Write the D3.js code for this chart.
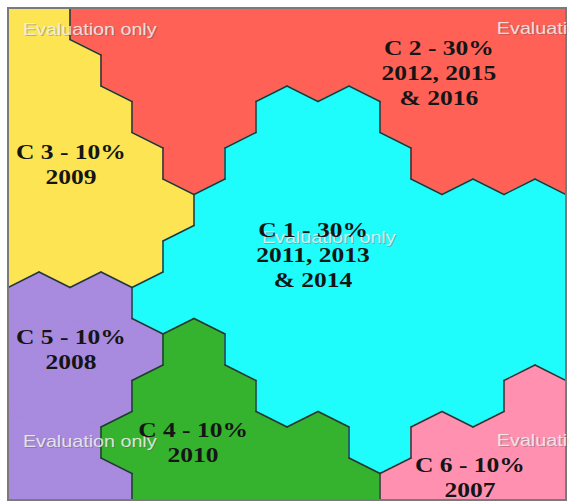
<!DOCTYPE html>
<html>
  <head>
    <meta charset="utf-8">
    <title>SOM clusters</title>
    <script src="https://d3js.org/d3.v7.min.js"></script>
    <style>
      body { margin: 0; background: #fff; }
      .label {
        font-family: "Liberation Serif", "Times New Roman", serif;
        font-weight: bold;
        font-size: 22px;
        fill: #151515;
      }
      .wm {
        font-family: "Liberation Sans", Arial, sans-serif;
        font-size: 17px;
      }
    </style>
  </head>
  <body>
    <svg width="574" height="503"></svg>
    <script>
      // cluster ids, colours and captions
      var clusterIds = [1, 2, 3, 4, 5, 6];
      var clusterColors = ["#1ffcfc", "#ff6156", "#fce453", "#36b32e", "#a88ade", "#ff90b0"];
      var clusterTitles = ["C 1 - 30%", "C 2 - 30%", "C 3 - 10%", "C 4 - 10%", "C 5 - 10%", "C 6 - 10%"];
      var clusterYears = [["2011, 2013", "& 2014"], ["2012, 2015", "& 2016"], ["2009"], ["2010"], ["2008"], ["2007"]];

      // where each caption sits on the grid (row, half-column)
      var labelRows = [4.97, 1.05, 3.03, 8.99, 7.0, 9.75];
      var labelCols = [9.84, 13.9, 2.03, 5.97, 2.03, 14.9];

      // SOM map: one string per hex row, one digit per cell = cluster id
      var gridRows = [
        "322222222",
        "3322222222",
        "332211222",
        "3332111222",
        "333111111",
        "3331111111",
        "551111111",
        "5554111111",
        "554411116",
        "5544441666",
        "554444666"
      ];

      var watermark = "Evaluation only";
      var wmRows = [0.24, 0.22, 4.71, 9.1, 9.07];
      var wmCols = [0.48, 15.77, 8.19, 0.48, 15.77];

      var svg = d3.select("svg");

      var x = d3.scaleLinear().domain([0, 18]).range([8, 566]);
      var y = d3.scaleLinear().domain([0, 10]).range([24, 489]);
      var color = d3.scaleOrdinal().domain(clusterIds).range(clusterColors);

      var hw = x(1) - x(0);
      var R = (y(1) - y(0)) / 1.5;
      var stretch = 1.16;

      var cells = [];
      var lookup = {};
      gridRows.forEach(function(s, r) {
        s.split("").forEach(function(ch, i) {
          var h = r % 2 === 0 ? 2 * i + 1 : 2 * i;
          var c = {row: r, h: h, cluster: +ch};
          cells.push(c);
          lookup[r + "," + h] = c;
        });
      });

      function verts(c) {
        var cx = x(c.h), cy = y(c.row);
        return [[cx, cy - R], [cx + hw, cy - R / 2], [cx + hw, cy + R / 2],
                [cx, cy + R], [cx - hw, cy + R / 2], [cx - hw, cy - R / 2]];
      }

      svg.append("clipPath").attr("id", "map")
        .append("rect").attr("x", x(0)).attr("y", 8)
        .attr("width", x(18) - x(0)).attr("height", 492);

      var map = svg.append("g").attr("clip-path", "url(#map)");

      map.selectAll(".hex")
          .data(cells)
          .enter().append("path")
          .attr("class", "hex")
          .attr("d", function(c) { return "M" + verts(c).join("L") + "Z"; })
          .attr("fill", function(c) { return color(c.cluster); })
          .attr("stroke", function(c) { return color(c.cluster); })
          .attr("stroke-width", 1.4);

      // borders between different clusters
      var dirs = [[-1, 1], [0, 2], [1, 1], [1, -1], [0, -2], [-1, -1]];
      var edges = [];
      cells.forEach(function(c) {
        var v = verts(c);
        dirs.forEach(function(d, k) {
          var n = lookup[(c.row + d[0]) + "," + (c.h + d[1])];
          if (n && n.cluster !== c.cluster && (n.row > c.row || (n.row === c.row && n.h > c.h))) {
            edges.push([v[k], v[(k + 1) % 6]]);
          }
        });
      });

      map.selectAll(".edge")
          .data(edges)
          .enter().append("line")
          .attr("x1", function(e) { return e[0][0]; })
          .attr("y1", function(e) { return e[0][1]; })
          .attr("x2", function(e) { return e[1][0]; })
          .attr("y2", function(e) { return e[1][1]; })
          .attr("stroke", "#263838")
          .attr("stroke-width", 1.5)
          .attr("stroke-linecap", "round");

      svg.append("rect")
          .attr("x", x(0)).attr("y", 8)
          .attr("width", x(18) - x(0)).attr("height", 492)
          .attr("fill", "none")
          .attr("stroke", "#7a7a7a")
          .attr("stroke-width", 2);

      // watermarks
      svg.append("clipPath").attr("id", "wmclip")
        .append("rect").attr("x", 0).attr("y", 0).attr("width", 569).attr("height", 503);
      var wm = svg.append("g").attr("clip-path", "url(#wmclip)")
        .selectAll("g").data(wmRows).enter().append("g")
          .attr("transform", function(r, i) {
            return "translate(" + x(wmCols[i]) + "," + y(r) + ") scale(" + stretch + ",1)";
          });
      wm.append("text").attr("class", "wm")
          .attr("x", 1).attr("y", 1)
          .attr("fill", "#555").attr("opacity", 0.35)
          .text(watermark);
      wm.append("text").attr("class", "wm")
          .attr("fill", "#f2f2f2").attr("opacity", 0.85)
          .text(watermark);

      // cluster captions
      var labels = svg.selectAll(".lab")
          .data(clusterIds)
          .enter().append("g")
          .attr("class", "lab")
          .attr("transform", function(id, i) {
            return "translate(" + x(labelCols[i]) + "," + y(labelRows[i]) + ") scale(" + stretch + ",1)";
          });

      labels.each(function(id, i) {
        var lines = [clusterTitles[i]].concat(clusterYears[i]);
        var g = d3.select(this);
        var lh = 25;
        var top = -(lines.length - 1) * lh / 2 + 7;
        lines.forEach(function(t, j) {
          g.append("text")
              .attr("class", "label")
              .attr("text-anchor", "middle")
              .attr("y", top + j * lh)
              .text(t);
        });
      });
    </script>
  </body>
</html>
